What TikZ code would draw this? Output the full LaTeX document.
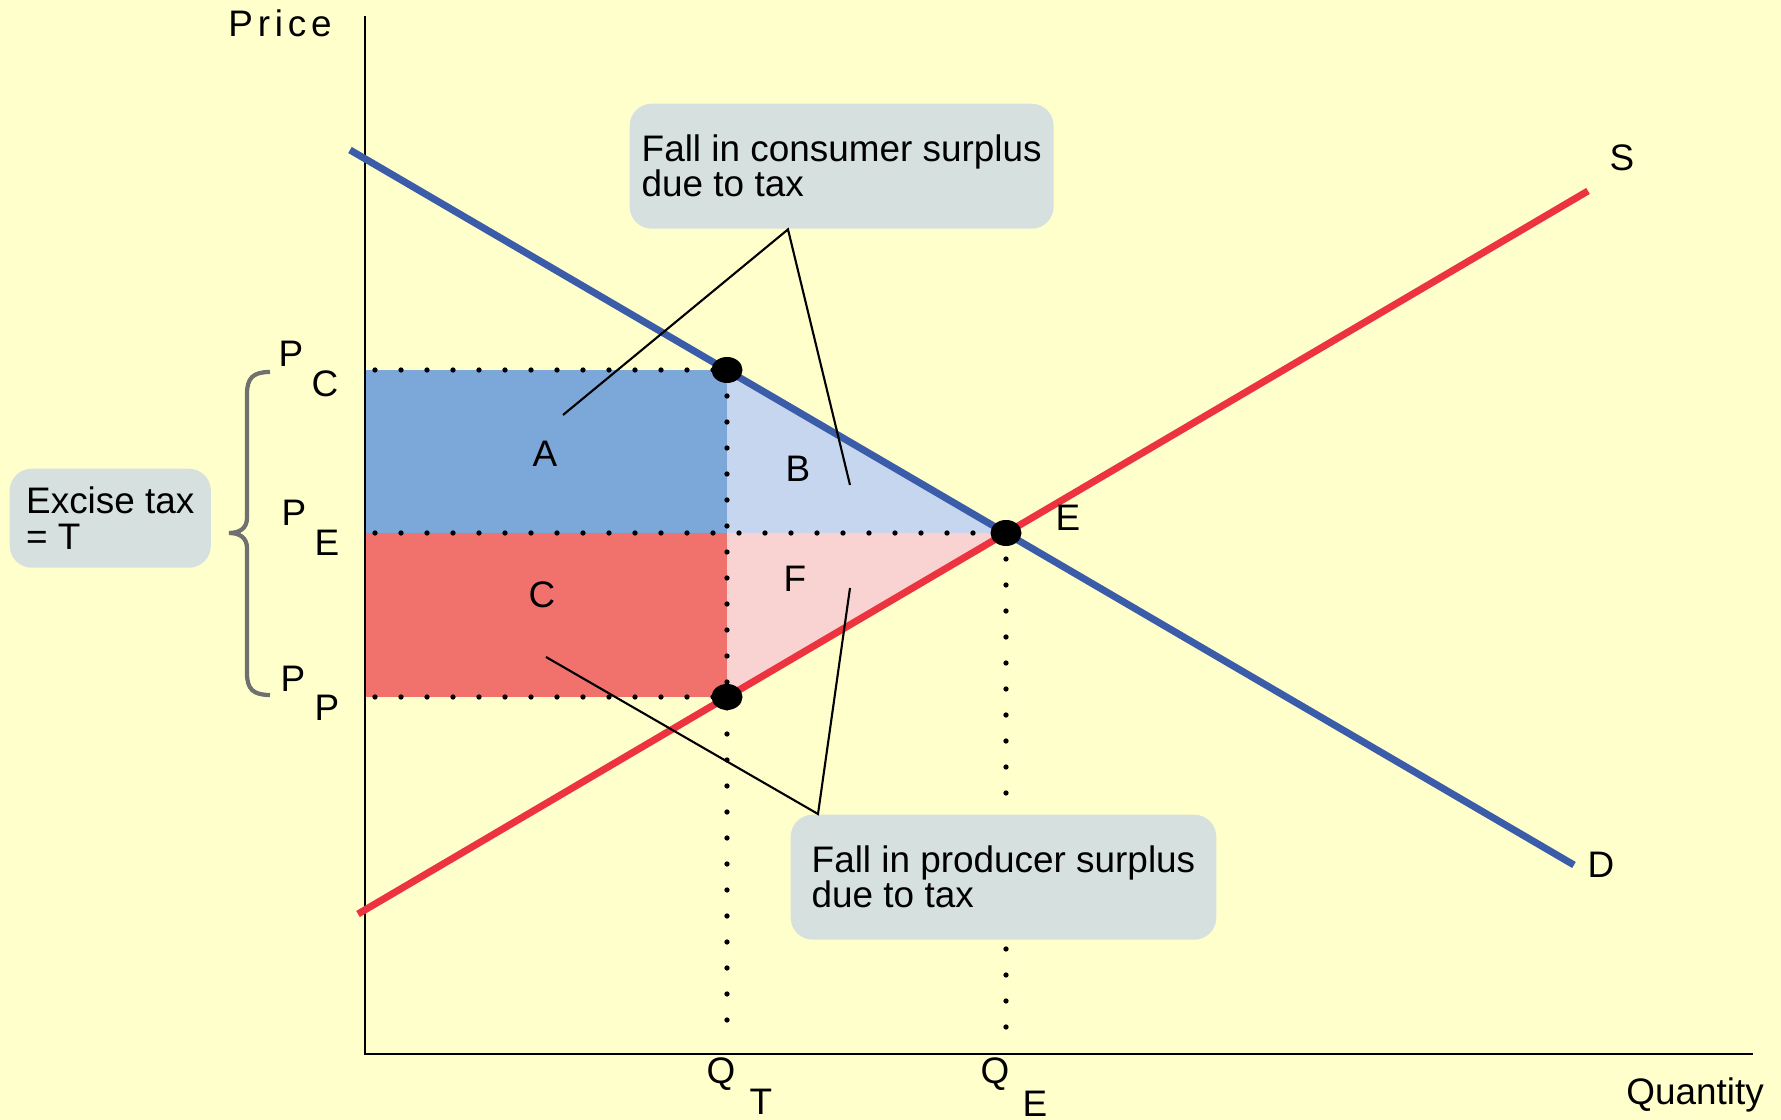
\documentclass[tikz,border=0pt]{standalone}
\usepackage{fontspec}
\setmainfont{Liberation Sans}
\usetikzlibrary{shapes.geometric, arrows.meta, positioning, calc}
\usepackage{xcolor}
\definecolor{bgyellow}{RGB}{255,255,204}
\definecolor{dmdblue}{RGB}{59,92,168}
\definecolor{supred}{RGB}{237,50,64}
\definecolor{areaA}{RGB}{123,167,217}
\definecolor{areaB}{RGB}{198,214,239}
\definecolor{areaC}{RGB}{241,113,109}
\definecolor{areaF}{RGB}{249,211,209}
\definecolor{notegray}{RGB}{214,225,223}
\definecolor{bracegray}{RGB}{112,112,112}
\newcommand{\lblfont}{\fontsize{10.5pt}{10pt}\selectfont}
\tikzset{
  lbl/.style={font=\lblfont, inner sep=0pt},
  note/.style={rectangle, fill=notegray, rounded corners=0.22cm,
    align=left, inner xsep=0.12cm, inner ysep=0pt,
    minimum height=1.25cm, font=\lblfont, anchor=north west},
  axisl/.style={draw=black, line width=0.6pt},
  dmd/.style={draw=dmdblue, line width=2pt},
  supl/.style={draw=supred, line width=2pt},
  dots/.style={draw=black, line width=1.5pt, line cap=round,
    dash pattern=on 0pt off 0.26cm},
  eqpt/.style={ellipse, fill=black, minimum width=0.31cm,
    minimum height=0.26cm, inner sep=0pt},
  leader/.style={draw=black, line width=0.6pt},
}

\begin{document}
\begin{tikzpicture}

  % -- background, fixes the page --
  \fill[bgyellow] (-3.65,-0.66) rectangle (14.16,10.54);

  % key points
  \coordinate (C) at (3.62,6.84);
  \coordinate (E) at (6.41,5.21);
  \coordinate (P) at (3.62,3.57);
  \coordinate (CE) at (3.62,5.21);

  % -- surplus areas --
  \fill[areaA] (0,5.21) rectangle (C);
  \fill[areaB] (C) -- (E) -- (CE) -- cycle;
  \fill[areaC] (0,3.57) rectangle (CE);
  \fill[areaF] (CE) -- (E) -- (P) -- cycle;

  % -- dotted guides --
  \draw[dots] (0.1,6.84) -- (C);
  \draw[dots] (0.1,5.21) -- (E);
  \draw[dots] (0.1,3.57) -- (P);
  \draw[dots] (C) -- (3.62,0.12);
  \draw[dots] (E) -- (6.41,0.12);

  % -- axes --
  \draw[axisl] (0,10.38) -- (0,0) -- (13.88,0);
  \node[lbl, font=\lblfont\addfontfeature{LetterSpace=13}] (price) at (-0.85,10.31) {Price};
  \node[lbl] (qty) at (13.30,-0.41) {Quantity};

  % -- demand and supply --
  \draw[dmd] (-0.15,9.04) -- (12.09,1.89);
  \draw[supl] (-0.07,1.40) -- (12.23,8.63);
  \node[lbl] (dlab) at (12.36,1.89) {D};
  \node[lbl] (slab) at (12.57,8.96) {S};
  \node[lbl] (elab) at (7.03,5.36) {E};

  \node[eqpt] (dotC) at (C) {};
  \node[eqpt] (dotE) at (E) {};
  \node[eqpt] (dotP) at (P) {};

  % -- area letters --
  \node[lbl] (la) at (1.80,6.00) {A};
  \node[lbl] (lb) at (4.33,5.85) {B};
  \node[lbl] (lc) at (1.77,4.59) {C};
  \node[lbl] (lf) at (4.30,4.75) {F};

  % -- price and quantity labels --
  \node[lbl] (pc) at (-0.74,7.00) {P};
  \node[lbl] (pcs) at (-0.40,6.70) {C};
  \node[lbl] (pe) at (-0.71,5.41) {P};
  \node[lbl] (pes) at (-0.38,5.11) {E};
  \node[lbl] (pp) at (-0.72,3.75) {P};
  \node[lbl] (pps) at (-0.38,3.46) {P};
  \node[lbl] (qt) at (3.56,-0.20) {Q};
  \node[lbl] (qts) at (3.96,-0.48) {T};
  \node[lbl] (qe) at (6.30,-0.20) {Q};
  \node[lbl] (qes) at (6.70,-0.50) {E};

  % -- tax brace --
  \draw[bracegray, line width=1.2pt]
       (-0.95,6.82) .. controls (-1.12,6.82) and (-1.18,6.76) .. (-1.18,6.60)
       -- (-1.18,5.36) .. controls (-1.18,5.26) and (-1.25,5.21) .. (-1.36,5.21)
       .. controls (-1.25,5.21) and (-1.18,5.16) .. (-1.18,5.06)
       -- (-1.18,3.81) .. controls (-1.18,3.65) and (-1.12,3.59) .. (-0.95,3.59);
  \node[note, inner xsep=0.165cm, minimum height=0.99cm] (tax) at (-3.56,5.86)
       {Excise tax\\= T};

  % -- callouts --
  \node[note] (cs) at (2.64,9.51) {Fall in consumer surplus\\due to tax};
  \node[note, inner xsep=0.21cm] (ps) at (4.25,2.40)
       {Fall in producer surplus\\due to tax};
  \coordinate (csTip) at ($(cs.south west)+(1.59,0)$);
  \coordinate (psTip) at ($(ps.north west)+(0.28,0)$);
  \coordinate (endA) at (1.98,6.39);
  \coordinate (endB) at (4.85,5.69);
  \coordinate (endC) at (1.81,3.97);
  \coordinate (endF) at (4.85,4.66);
  \draw[leader] (endA) -- (csTip) -- (endB);
  \draw[leader] (endC) -- (psTip) -- (endF);
\end{tikzpicture}
\end{document}
